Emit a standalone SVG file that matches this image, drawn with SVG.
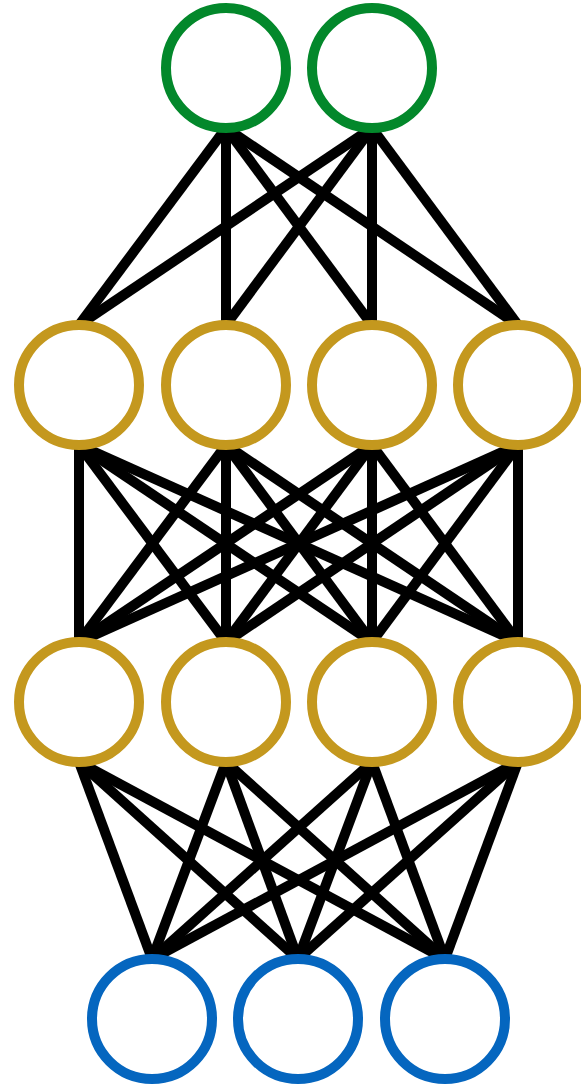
<svg xmlns="http://www.w3.org/2000/svg" width="581" height="1089" viewBox="0 0 581 1089">
<style>
.e{stroke:#000;stroke-width:10;fill:none}
.n{fill:#fff;stroke-width:10}
.g{stroke:#03882b}
.y{stroke:#c4981e}
.b{stroke:#0566bf}
</style>
<rect width="581" height="1089" fill="#fff"/>
<g id="connectors">
<line class="e" x1="226" y1="128" x2="79" y2="325"/>
<line class="e" x1="226" y1="128" x2="226" y2="325"/>
<line class="e" x1="226" y1="128" x2="372" y2="325"/>
<line class="e" x1="226" y1="128" x2="518" y2="325"/>
<line class="e" x1="372" y1="128" x2="79" y2="325"/>
<line class="e" x1="372" y1="128" x2="226" y2="325"/>
<line class="e" x1="372" y1="128" x2="372" y2="325"/>
<line class="e" x1="372" y1="128" x2="518" y2="325"/>
<line class="e" x1="79" y1="445" x2="79" y2="642"/>
<line class="e" x1="79" y1="445" x2="226" y2="642"/>
<line class="e" x1="79" y1="445" x2="372" y2="642"/>
<line class="e" x1="79" y1="445" x2="518" y2="642"/>
<line class="e" x1="226" y1="445" x2="79" y2="642"/>
<line class="e" x1="226" y1="445" x2="226" y2="642"/>
<line class="e" x1="226" y1="445" x2="372" y2="642"/>
<line class="e" x1="226" y1="445" x2="518" y2="642"/>
<line class="e" x1="372" y1="445" x2="79" y2="642"/>
<line class="e" x1="372" y1="445" x2="226" y2="642"/>
<line class="e" x1="372" y1="445" x2="372" y2="642"/>
<line class="e" x1="372" y1="445" x2="518" y2="642"/>
<line class="e" x1="518" y1="445" x2="79" y2="642"/>
<line class="e" x1="518" y1="445" x2="226" y2="642"/>
<line class="e" x1="518" y1="445" x2="372" y2="642"/>
<line class="e" x1="518" y1="445" x2="518" y2="642"/>
<line class="e" x1="79" y1="762" x2="152" y2="959"/>
<line class="e" x1="79" y1="762" x2="298" y2="959"/>
<line class="e" x1="79" y1="762" x2="445" y2="959"/>
<line class="e" x1="226" y1="762" x2="152" y2="959"/>
<line class="e" x1="226" y1="762" x2="298" y2="959"/>
<line class="e" x1="226" y1="762" x2="445" y2="959"/>
<line class="e" x1="372" y1="762" x2="152" y2="959"/>
<line class="e" x1="372" y1="762" x2="298" y2="959"/>
<line class="e" x1="372" y1="762" x2="445" y2="959"/>
<line class="e" x1="518" y1="762" x2="152" y2="959"/>
<line class="e" x1="518" y1="762" x2="298" y2="959"/>
<line class="e" x1="518" y1="762" x2="445" y2="959"/>
</g>
<g id="o1"><circle class="n g" cx="226" cy="68" r="60"/></g>
<g id="o2"><circle class="n g" cx="372" cy="68" r="60"/></g>
<g id="h1a"><circle class="n y" cx="79" cy="385" r="60"/></g>
<g id="h1b"><circle class="n y" cx="226" cy="385" r="60"/></g>
<g id="h1c"><circle class="n y" cx="372" cy="385" r="60"/></g>
<g id="h1d"><circle class="n y" cx="518" cy="385" r="60"/></g>
<g id="h2a"><circle class="n y" cx="79" cy="702" r="60"/></g>
<g id="h2b"><circle class="n y" cx="226" cy="702" r="60"/></g>
<g id="h2c"><circle class="n y" cx="372" cy="702" r="60"/></g>
<g id="h2d"><circle class="n y" cx="518" cy="702" r="60"/></g>
<g id="i1"><circle class="n b" cx="152" cy="1019" r="60"/></g>
<g id="i2"><circle class="n b" cx="298" cy="1019" r="60"/></g>
<g id="i3"><circle class="n b" cx="445" cy="1019" r="60"/></g>
</svg>
